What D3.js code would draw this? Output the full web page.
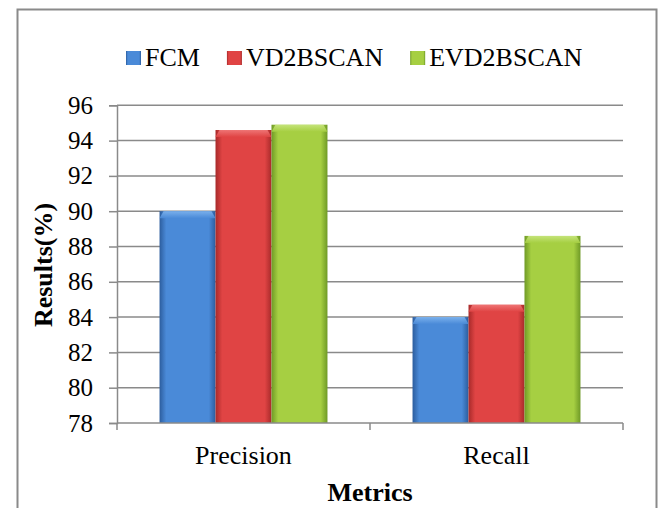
<!DOCTYPE html>
<html><head><meta charset="utf-8">
<script src="https://cdn.jsdelivr.net/npm/d3@7/dist/d3.min.js"></script>
<style>
body{margin:0;background:#fff;}
text{font-family:"Liberation Serif","Times New Roman",serif;fill:#000;}
</style></head><body>
<svg id="c" width="658" height="508"></svg>
<script>
const categories = ["Precision", "Recall"];
const seriesNames = ["FCM", "VD2BSCAN", "EVD2BSCAN"];
const fcmValues = [90.0, 84.0];
const vd2bscanValues = [94.6, 84.7];
const evd2bscanValues = [94.9, 88.6];
const yTicks = [78, 80, 82, 84, 86, 88, 90, 92, 94, 96];
const seriesValues = [fcmValues, vd2bscanValues, evd2bscanValues];
const colors = [
  {edge:"#2c5d9e", mid:"#4a8ad8", top:"#7fb4ee"},
  {edge:"#a82a2a", mid:"#e04444", top:"#f07a7a"},
  {edge:"#6f9a26", mid:"#a6cf42", top:"#c8e680"}
];

const svg = d3.select("#c");
const defs = svg.append("defs");
colors.forEach((c,i)=>{
  const g = defs.append("linearGradient").attr("id","g"+i).attr("x1","0").attr("x2","1").attr("y1","0").attr("y2","0");
  g.append("stop").attr("offset","0").attr("stop-color",c.edge);
  g.append("stop").attr("offset","0.12").attr("stop-color",c.mid);
  g.append("stop").attr("offset","0.5").attr("stop-color",c.mid);
  g.append("stop").attr("offset","0.88").attr("stop-color",c.mid);
  g.append("stop").attr("offset","1").attr("stop-color",c.edge);
  const t = defs.append("linearGradient").attr("id","t"+i).attr("x1","0").attr("x2","0").attr("y1","0").attr("y2","1");
  t.append("stop").attr("offset","0").attr("stop-color",c.top);
  t.append("stop").attr("offset","1").attr("stop-color",c.mid);
});

// frame
svg.append("path").attr("d","M17.5,520 V9.5 H656.5 V520").attr("fill","none").attr("stroke","#8a8a8a").attr("stroke-width",2);

const pLeft = 117, pRight = 623, pTop = 105.3, pBottom = 423;
const y = d3.scaleLinear().domain([78,96]).range([pBottom, pTop]);
const x0 = d3.scaleBand().domain(categories).range([pLeft,pRight]).paddingInner(0).paddingOuter(0);
const x1 = d3.scaleBand().domain(seriesNames).range([0,x0.bandwidth()]).paddingInner(0).paddingOuter(0.76);

// gridlines
svg.append("g").selectAll("line").data(yTicks.filter(v=>v>78)).join("line")
  .attr("x1",pLeft).attr("x2",pRight).attr("y1",d=>y(d)).attr("y2",d=>y(d))
  .attr("stroke","#8a8a8a").attr("stroke-width",1.5);

// y axis
const ya = svg.append("g").attr("transform",`translate(${pLeft},0)`)
  .call(d3.axisLeft(y).tickValues(yTicks).tickSize(8).tickPadding(16));
ya.select(".domain").attr("stroke","#8a8a8a").attr("stroke-width",1.5);
ya.selectAll(".tick line").attr("stroke","#8a8a8a").attr("stroke-width",1.5);
ya.selectAll("text").style("font-size","25px").style("font-family","Liberation Serif").attr("fill","#000");

// bars
const groups = svg.append("g").selectAll("g").data(categories).join("g")
  .attr("transform",d=>`translate(${x0(d)},0)`);
groups.each(function(cat,ci){
  const g = d3.select(this);
  seriesNames.forEach((s,si)=>{
    const v = seriesValues[si][ci];
    const bx = x1(s), bw = x1.bandwidth(), by = y(v), bh = pBottom - y(v);
    g.append("rect").attr("x",bx).attr("y",by).attr("width",bw).attr("height",bh).attr("fill",`url(#g${si})`);
    g.append("path").attr("d",`M${bx},${by+7} L${bx+4},${by} H${bx+bw-4} L${bx+bw},${by+7} Z`).attr("fill",`url(#t${si})`).attr("opacity",0.9);
  });
});

// x axis
const xa = svg.append("g");
xa.append("line").attr("x1",pLeft).attr("x2",pRight).attr("y1",pBottom).attr("y2",pBottom).attr("stroke","#8a8a8a").attr("stroke-width",1.5);
const xTicks = [pLeft].concat(categories.map(c=>x0(c)+x0.bandwidth()));
xa.selectAll(".xt").data(xTicks).join("line").attr("class","xt")
  .attr("x1",d=>d).attr("x2",d=>d).attr("y1",pBottom).attr("y2",pBottom+7).attr("stroke","#8a8a8a").attr("stroke-width",1.5);
xa.selectAll(".xl").data(categories).join("text").attr("class","xl")
  .attr("x",d=>x0(d)+x0.bandwidth()/2).attr("y",464).attr("text-anchor","middle")
  .style("font-size","26px").text(d=>d);

// axis titles
svg.append("text").attr("transform","translate(52,265) rotate(-90)").attr("text-anchor","middle")
  .style("font-size","26px").style("font-weight","bold").text("Results(%)");
svg.append("text").attr("x",370).attr("y",501).attr("text-anchor","middle")
  .style("font-size","26px").style("font-weight","bold").text("Metrics");

// legend
const leg = svg.append("g");
let lx = 126;
seriesNames.forEach((s,i)=>{
  leg.append("rect").attr("x",lx).attr("y",51).attr("width",15).attr("height",14).attr("fill",`url(#g${i})`);
  const t = leg.append("text").attr("x",lx+19).attr("y",65.5).style("font-size","26px").text(s);
  lx += 19 + t.node().getComputedTextLength() + 27;
});
</script></body></html>
